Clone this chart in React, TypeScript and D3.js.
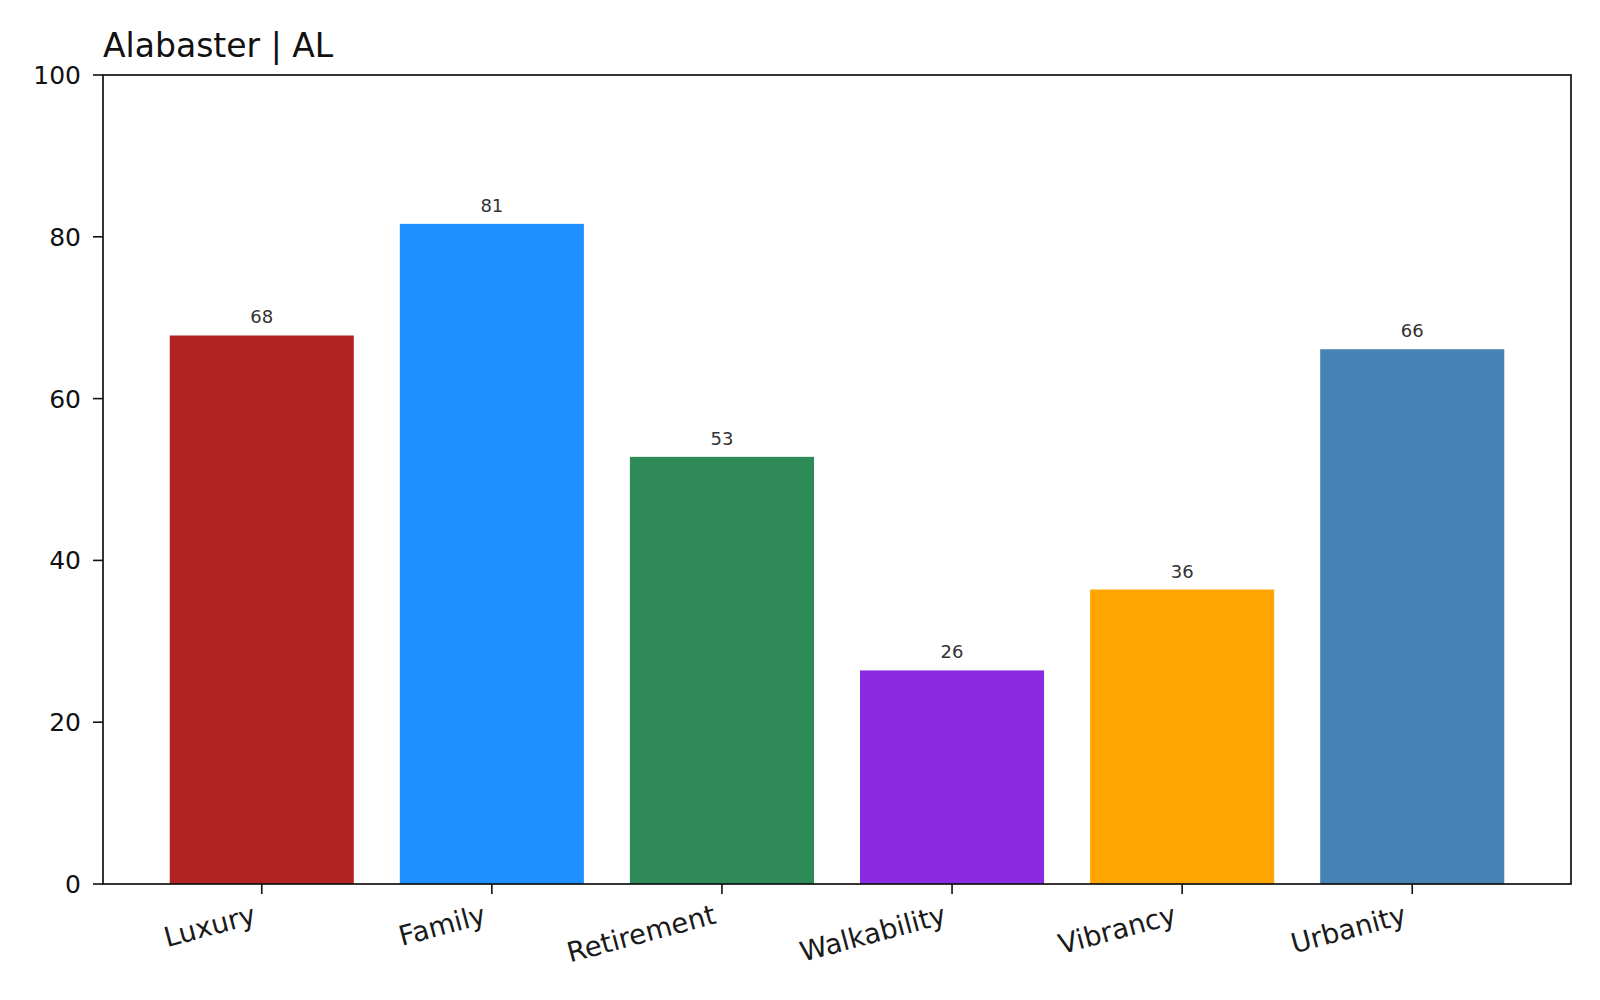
import React from "react";
import * as d3 from "d3";

const categories = ["Luxury", "Family", "Retirement", "Walkability", "Vibrancy", "Urbanity"];
const values = [67.8, 81.6, 52.8, 26.4, 36.4, 66.1];
const labels = [68, 81, 53, 26, 36, 66];
const colors = ["#B22222", "#1E90FF", "#2E8B57", "#8A2BE2", "#FFA500", "#4682B4"];
const yTicks = [0, 20, 40, 60, 80, 100];
const title = "Alabaster | AL";

const W = 1600;
const H = 1000;
const left = 103;
const right = 1571;
const top = 75;
const bottom = 884;

export default function App() {
  const x = d3.scaleLinear().domain([-0.69, categories.length - 1 + 0.69]).range([left, right]);
  const y = d3.scaleLinear().domain([0, 100]).range([bottom, top]);
  const bw = x(0.4) - x(-0.4);
  const font = "'DejaVu Sans', sans-serif";
  const xFont = 27.5;
  return (
    <svg
      width={W}
      height={H}
      style={{ position: "absolute", left: 0, top: 0, display: "block", background: "#fff" }}
      fontFamily={font}
    >
      <rect x={0} y={0} width={W} height={H} fill="#fff" />
      {values.map((v, i) => (
        <g key={categories[i]}>
          <rect x={x(i) - bw / 2} y={y(v)} width={bw} height={y(0) - y(v)} fill={colors[i]} />
          <text x={x(i)} y={y(v) - 12} textAnchor="middle" fontSize={18} fill="#333">
            {labels[i]}
          </text>
        </g>
      ))}
      <rect x={left} y={top} width={right - left} height={bottom - top} fill="none" stroke="#111" strokeWidth={1.7} />
      {yTicks.map((t) => (
        <g key={t}>
          <line x1={left - 10} x2={left} y1={y(t)} y2={y(t)} stroke="#111" strokeWidth={1.6} />
          <text x={left - 22} y={y(t)} dy="0.36em" textAnchor="end" fontSize={25} fill="#111">
            {t}
          </text>
        </g>
      ))}
      {categories.map((c, i) => {
        const tx = x(i);
        const px = tx - 4.5;
        const py = bottom + 39;
        return (
          <g key={c}>
            <line x1={tx} x2={tx} y1={bottom} y2={bottom + 10} stroke="#111" strokeWidth={1.6} />
            <text
              x={px}
              y={py}
              textAnchor="end"
              fontSize={xFont}
              fill="#1a1a1a"
              transform={`rotate(-15, ${px}, ${py})`}
            >
              {c}
            </text>
          </g>
        );
      })}
      <text x={left} y={57} fontSize={33} fill="#111">
        {title}
      </text>
    </svg>
  );
}
